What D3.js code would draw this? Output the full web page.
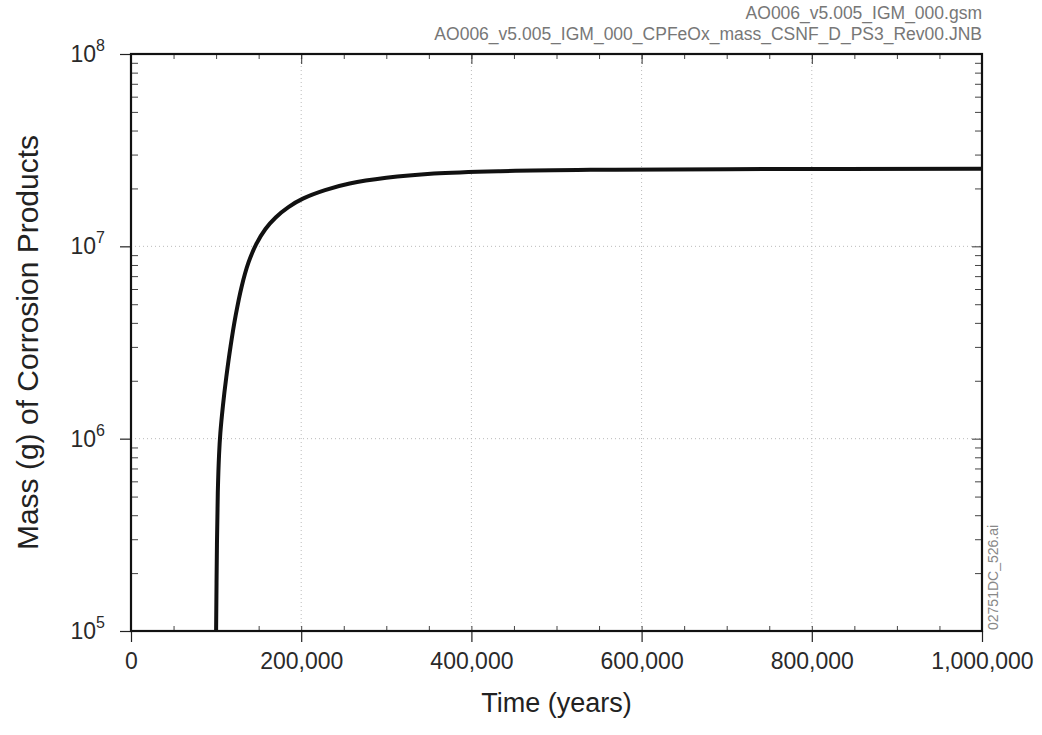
<!doctype html>
<html lang="en">
<head>
  <meta charset="utf-8">
  <style>
    body { margin: 0; background: #fff; }
    svg { font-family: "Liberation Sans", Arial, sans-serif; }
  </style>
</head>
<body>
  <script src="https://d3js.org/d3.v7.min.js"></script>
  <div id="chart"></div>
  <script>
    // Data
    var years = [100000, 101000, 102000, 103500, 105000, 108000, 112000, 117000, 123000, 130000,
                 138000, 147000, 158000, 170000, 185000, 202000, 228000, 257000, 300000, 356000,
                 434000, 550000, 700000, 1000000];
    var mass = [1.0e5, 2.82e5, 5.25e5, 8.3e5, 1.07e6, 1.48e6, 2.09e6, 3.02e6, 4.37e6, 6.17e6,
                8.22e6, 1.023e7, 1.23e7, 1.413e7, 1.60e7, 1.77e7, 1.96e7, 2.12e7, 2.27e7, 2.39e7,
                2.46e7, 2.50e7, 2.52e7, 2.53e7];
    var xTicks = [0, 200000, 400000, 600000, 800000, 1000000];
    var yTicks = [1e5, 1e6, 1e7, 1e8];
    var header = ["AO006_v5.005_IGM_000.gsm", "AO006_v5.005_IGM_000_CPFeOx_mass_CSNF_D_PS3_Rev00.JNB"];

    var width = 1042, height = 735;
    var margin = {top: 54, right: 60, bottom: 104, left: 131};

    var svg = d3.select("#chart").append("svg")
                .attr("width", width)
                .attr("height", height);

    var x = d3.scaleLinear().domain([0, 1000000]).range([margin.left, width - margin.right]);
    var y = d3.scaleLog().domain([1e5, 1e8]).range([height - margin.bottom, margin.top]);

    var x0 = x.range()[0], x1 = x.range()[1], y0 = y.range()[0], y1 = y.range()[1];

    // minor ticks
    var xMinor = d3.range(0, 1000001, 50000);
    var yMinor = [];
    [1e5, 1e6, 1e7].forEach(function(d) {
      for (var k = 2; k <= 9; k++) yMinor.push(d * k);
    });

    // grid
    var grid = svg.append("g").attr("stroke", "#bbb").attr("stroke-dasharray", "1,3");
    grid.selectAll("line.gx").data(xTicks.slice(1, -1)).enter().append("line")
        .attr("x1", d => x(d)).attr("x2", d => x(d)).attr("y1", y0).attr("y2", y1);
    grid.selectAll("line.gy").data(yTicks.slice(1, -1)).enter().append("line")
        .attr("x1", x0).attr("x2", x1).attr("y1", d => y(d)).attr("y2", d => y(d));

    // axes
    svg.append("g")
       .attr("transform", "translate(0," + y0 + ")")
       .call(d3.axisBottom(x).tickValues(xTicks).tickSize(11).tickFormat(d3.format(",")))
       .call(g => g.select(".domain").remove())
       .call(g => g.selectAll("line").attr("stroke", "#222").attr("stroke-width", 1.2))
       .call(g => g.selectAll("text").attr("font-size", 23).attr("fill", "#2a2a2a").attr("dy", "1.05em"));
    svg.append("g")
       .attr("transform", "translate(0," + y0 + ")")
       .call(d3.axisBottom(x).tickValues(xMinor).tickSize(-5).tickFormat(""))
       .call(g => g.select(".domain").remove())
       .call(g => g.selectAll("line").attr("stroke", "#444"));
    svg.append("g")
       .attr("transform", "translate(0," + y1 + ")")
       .call(d3.axisTop(x).tickValues(xMinor).tickSize(-5).tickFormat(""))
       .call(g => g.select(".domain").remove())
       .call(g => g.selectAll("line").attr("stroke", "#444"));
    svg.append("g")
       .attr("transform", "translate(0," + y1 + ")")
       .call(d3.axisTop(x).tickValues(xTicks).tickSize(-10).tickFormat(""))
       .call(g => g.select(".domain").remove())
       .call(g => g.selectAll("line").attr("stroke", "#333"));

    svg.append("g")
       .attr("transform", "translate(" + x0 + ",0)")
       .call(d3.axisLeft(y).tickValues(yTicks).tickSize(11).tickFormat(""))
       .call(g => g.select(".domain").remove())
       .call(g => g.selectAll("line").attr("stroke", "#222").attr("stroke-width", 1.2));
    svg.append("g")
       .attr("transform", "translate(" + x0 + ",0)")
       .call(d3.axisLeft(y).tickValues(yMinor).tickSize(-7).tickFormat(""))
       .call(g => g.select(".domain").remove())
       .call(g => g.selectAll("line").attr("stroke", "#444"));
    svg.append("g")
       .attr("transform", "translate(" + x1 + ",0)")
       .call(d3.axisRight(y).tickValues(yMinor).tickSize(-7).tickFormat(""))
       .call(g => g.select(".domain").remove())
       .call(g => g.selectAll("line").attr("stroke", "#444"));
    svg.append("g")
       .attr("transform", "translate(" + x1 + ",0)")
       .call(d3.axisRight(y).tickValues(yTicks).tickSize(-10).tickFormat(""))
       .call(g => g.select(".domain").remove())
       .call(g => g.selectAll("line").attr("stroke", "#333"));

    // y tick labels as 10^n
    var yl = svg.append("g").attr("fill", "#2a2a2a");
    yTicks.forEach(function(d) {
      var t = yl.append("text")
                .attr("x", x0 - 26).attr("y", y(d) + 8)
                .attr("text-anchor", "end")
                .attr("font-size", 23);
      t.append("tspan").text("10");
      t.append("tspan").attr("font-size", 16).attr("dy", -11).text(Math.round(Math.log10(d)));
    });

    // curve
    var line = d3.line()
                 .x(function(d, i) { return x(years[i]); })
                 .y(function(d, i) { return y(mass[i]); })
                 .curve(d3.curveCatmullRom.alpha(0.5));
    svg.append("defs").append("clipPath").attr("id", "clip")
       .append("rect").attr("x", x0).attr("y", y1).attr("width", x1 - x0).attr("height", y0 - y1);
    svg.append("path")
       .datum(mass)
       .attr("clip-path", "url(#clip)")
       .attr("d", line)
       .attr("fill", "none")
       .attr("stroke", "#111")
       .attr("stroke-width", 4);

    // frame
    svg.append("rect")
       .attr("x", x0).attr("y", y1).attr("width", x1 - x0).attr("height", y0 - y1)
       .attr("fill", "none").attr("stroke", "#111").attr("stroke-width", 2.2);

    // titles
    svg.append("text")
       .attr("x", (x0 + x1) / 2).attr("y", 712)
       .attr("text-anchor", "middle")
       .attr("font-size", 27).attr("fill", "#222")
       .text("Time (years)");
    svg.append("text")
       .attr("transform", "translate(38," + ((y0 + y1) / 2) + ") rotate(-90)")
       .attr("text-anchor", "middle")
       .attr("font-size", 30).attr("fill", "#222")
       .text("Mass (g) of Corrosion Products");

    // header and file tag
    svg.selectAll("text.hdr").data(header).enter().append("text")
       .attr("class", "hdr")
       .attr("x", x1).attr("y", (d, i) => 19 + i * 21)
       .attr("text-anchor", "end")
       .attr("font-size", 17.5).attr("fill", "#777")
       .text(d => d);
    svg.append("text")
       .attr("transform", "translate(998,630) rotate(-90)")
       .attr("font-size", 14).attr("fill", "#888")
       .text("02751DC_526.ai");
  </script>
</body>
</html>
